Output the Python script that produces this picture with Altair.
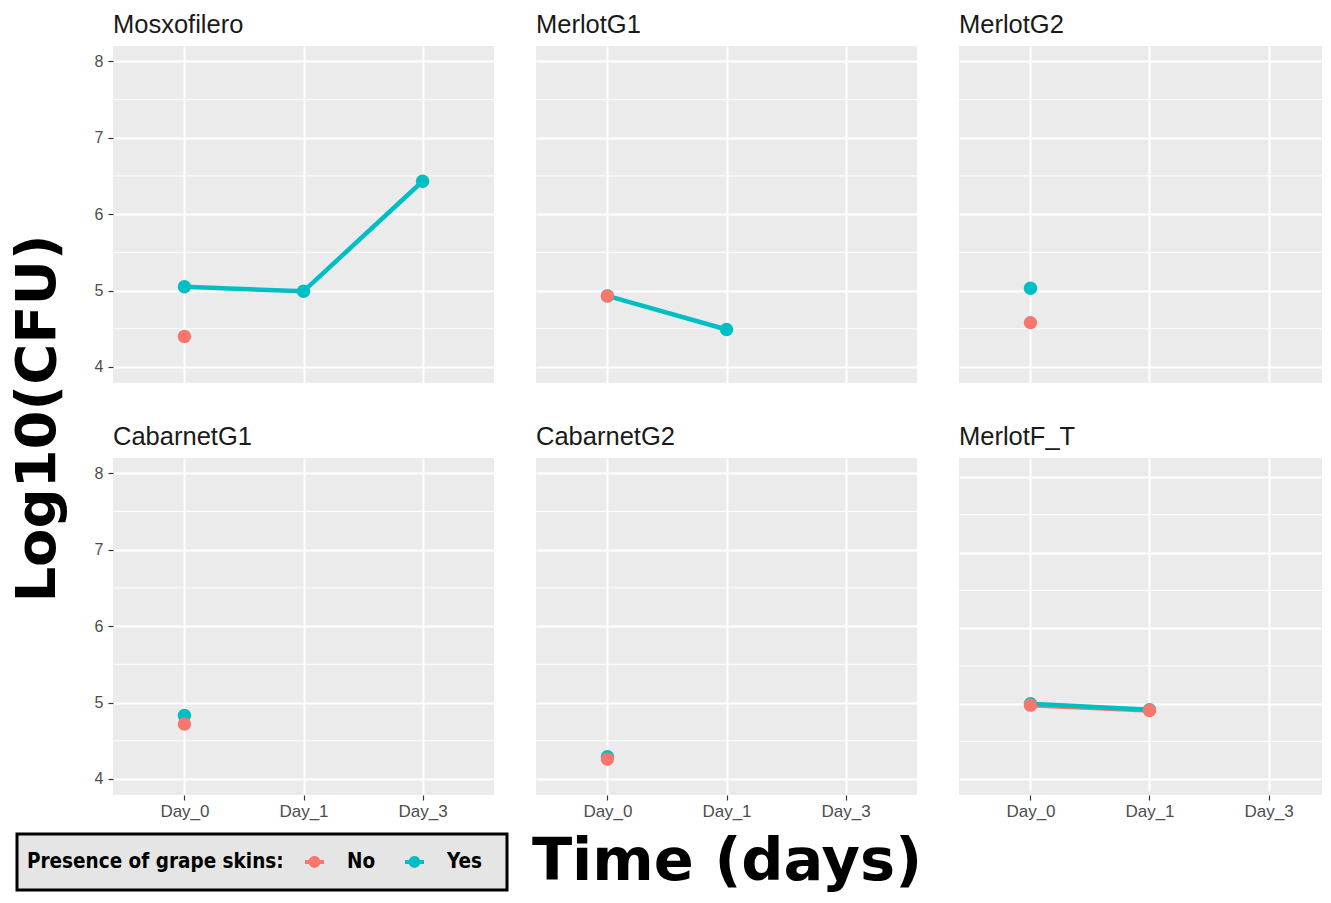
import altair as alt
import pandas as pd

# ---- data ----
varieties = ["Mosxofilero", "MerlotG1", "MerlotG2", "CabarnetG1", "CabarnetG2", "MerlotF_T"]
days = ["Day_0", "Day_1", "Day_3"]
skins = ["No", "Yes"]
colors = ["#F8766D", "#00BFC4"]

mosxofilero_yes = [5.05, 4.99, 6.43]
mosxofilero_no = [4.40, None, None]
merlotg1_yes = [4.93, 4.49, None]
merlotg1_no = [4.93, None, None]
merlotg2_yes = [5.03, None, None]
merlotg2_no = [4.58, None, None]
cabarnetg1_yes = [4.83, None, None]
cabarnetg1_no = [4.72, None, None]
cabarnetg2_yes = [4.29, None, None]
cabarnetg2_no = [4.26, None, None]
merlotft_yes = [5.00, 4.92, None]
merlotft_no = [4.98, 4.91, None]

y_ticks = [4, 5, 6, 7, 8]
y_minor = [4.5, 5.5, 6.5, 7.5]

series = {
    "Mosxofilero": (mosxofilero_yes, mosxofilero_no),
    "MerlotG1": (merlotg1_yes, merlotg1_no),
    "MerlotG2": (merlotg2_yes, merlotg2_no),
    "CabarnetG1": (cabarnetg1_yes, cabarnetg1_no),
    "CabarnetG2": (cabarnetg2_yes, cabarnetg2_no),
    "MerlotF_T": (merlotft_yes, merlotft_no),
}

rows = []
for v in varieties:
    yes_vals, no_vals = series[v]
    for lab, vals in (("Yes", yes_vals), ("No", no_vals)):
        for d, val in zip(days, vals):
            if val is not None:
                rows.append({"variety": v, "day": d, "skins": lab, "cfu": val})
df = pd.DataFrame(rows)
minor_df = pd.DataFrame({"cfu": y_minor})

GRID_MAJOR = 2.0
GRID_MINOR = 1.0
LABEL_COLOR = "#4d4d4d"
TICK_COLOR = "#333333"
LEGEND_FONT = "DejaVu Sans Condensed, Roboto Condensed, Liberation Sans Narrow, Roboto, sans-serif"

legend_symbol = ("M-0.5,-0.105L-0.2917,-0.105A0.31,0.31 0 0 1 0.2917,-0.105L0.5,-0.105"
                 "L0.5,0.105L0.2917,0.105A0.31,0.31 0 0 1 -0.2917,0.105L-0.5,0.105Z")

color_scale = alt.Scale(domain=skins, range=colors)

legend = alt.Legend(
    title="Presence of grape skins:", orient="none", direction="horizontal",
    titleOrient="left", titleAnchor="middle", titleBaseline="middle",
    legendX=-96, legendY=788,
    titleFont=LEGEND_FONT, titleFontSize=20.5, titleFontWeight="bold", titleLimit=500,
    titleColor="black", titlePadding=11.5,
    labelFont=LEGEND_FONT, labelFontSize=20.5, labelFontWeight="bold",
    labelColor="black", labelOffset=13.5, columnPadding=20,
    labelExpr="datum.label == 'Yes' ? 'Yes\u2800' : datum.label",
    symbolType=legend_symbol, symbolSize=1444, symbolStrokeWidth=0,
    symbolOpacity=1, clipHeight=36,
    fillColor="#e5e5e5", strokeColor="black", padding=10,
)


def panel(name, col, row, width, height, y_range):
    show_y = col == 0
    show_x = row == 1
    y_scale = alt.Scale(domain=[3.79, 8.2], nice=False, zero=False, range=y_range)
    if width == 381:
        x_scale = alt.Scale(domain=days, type="point", padding=0.6)
    else:
        x_scale = alt.Scale(domain=days, type="point", padding=0.525, align=0.572)
    x_axis_kw = dict(
        labels=show_x, ticks=show_x, domain=False, grid=True,
        labelFontSize=17, labelColor=LABEL_COLOR, labelFont="Liberation Sans",
        labelPadding=3, tickColor=TICK_COLOR, tickSize=5, tickWidth=1.2,
        gridColor="white", gridWidth=GRID_MAJOR, labelAngle=0,
    )
    if row == 1 and col == 1:
        x_axis_kw.update(
            title="Time (days)", titleFont="DejaVu Sans", titleFontSize=59,
            titleFontWeight="bold", titleColor="black", titleX=width / 2, titleY=84,
            titleAlign="center", titleBaseline="alphabetic",
        )
    else:
        x_axis_kw.update(title=None)
    y_axis_kw = dict(
        values=y_ticks, labels=show_y, ticks=show_y, domain=False,
        labelFontSize=16, labelColor=LABEL_COLOR, labelFont="Liberation Sans",
        labelPadding=5, tickColor=TICK_COLOR, tickSize=5, tickWidth=1.2,
        gridColor="white", gridWidth=GRID_MAJOR,
    )
    if row == 0 and col == 0:
        y_axis_kw.update(
            title="Log10(CFU)", titleFont="DejaVu Sans", titleFontSize=56,
            titleFontWeight="bold", titleColor="black", titleAngle=270,
            titleX=-76, titleY=372, titleAlign="center", titleBaseline="middle",
        )
    else:
        y_axis_kw.update(title=None)

    x_enc = alt.X("day:N", scale=x_scale, axis=alt.Axis(**x_axis_kw))
    y_enc = alt.Y("cfu:Q", scale=y_scale, axis=alt.Axis(**y_axis_kw))
    c_enc = alt.Color("skins:N", scale=color_scale, legend=legend)
    base = alt.Chart(df).transform_filter(alt.datum.variety == name)

    minor = alt.Chart(minor_df).mark_rule(color="white", strokeWidth=GRID_MINOR).encode(y=y_enc)
    lines = []
    for s in skins:
        lines.append(
            base.transform_filter(alt.datum.skins == s).mark_line(strokeWidth=4.5).encode(
                x=x_enc, y=y_enc, color=c_enc,
            )
        )
    pts = []
    for s in ["Yes", "No"]:
        pts.append(
            base.transform_filter(alt.datum.skins == s).mark_point(filled=True, size=180, opacity=1).encode(
                x=x_enc, y=y_enc, color=c_enc,
            )
        )
    return alt.layer(minor, *lines, *pts).properties(
        width=width, height=height,
        title=alt.TitleParams(name, anchor="start", frame="group", fontSize=25.5,
                              font="Liberation Sans", fontWeight="normal",
                              color="#1a1a1a", offset=8),
    )


panels = []
for i, v in enumerate(varieties):
    col, row = i % 3, i // 3
    w = 363 if col == 2 else 381
    rng = [337, 4] if v == "MerlotF_T" else [337, 0]
    panels.append(panel(v, col, row, w, 337, rng))

chart = alt.concat(*panels, columns=3, spacing={"row": 75, "column": 42}, bounds="flush").properties(
    padding={"left": 1, "top": 4, "right": 0, "bottom": 0},
).configure(background="white").configure_view(fill="#EBEBEB", strokeWidth=0)

try:
    _c = chart.configure_legend(strokeWidth=3)
    _c.to_dict()
    chart = _c
except Exception:
    pass

chart.save("out.html", embed_options={"renderer": "svg", "actions": False})
